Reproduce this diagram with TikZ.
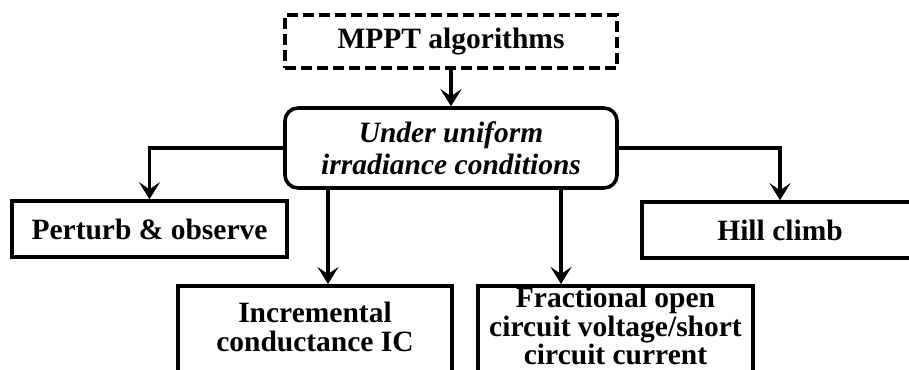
\documentclass[tikz,border=0pt]{standalone}
\usepackage{fontspec}
\setmainfont{Liberation Serif}
\usetikzlibrary{arrows.meta}
\begin{document}
\begin{tikzpicture}[x=1pt,y=-1pt,
  every node/.style={font=\fontsize{29.5}{29.5}\selectfont\bfseries, align=center},
  box/.style={draw, line width=3.6pt, inner sep=0pt, align=center},
  arr/.style={line width=3.4pt, -{Stealth[length=17pt,width=21pt,inset=7pt]}},
  conn/.style={line width=3.4pt}]
\clip (0,0) rectangle (909,369);
\node[box, dashed, dash pattern=on 11pt off 5pt, minimum width=332, minimum height=53] (mppt) at (451,41.5) {MPPT algorithms};
\node[box, rounded corners=13pt, minimum width=332, minimum height=80, font=\fontsize{29.5}{32}\selectfont\bfseries\itshape] (under) at (451,148) {Under uniform\\irradiance conditions};
\node[box, minimum width=275, minimum height=56] (po) at (149.5,229) {Perturb \& observe};
\node[box, minimum width=276, minimum height=56] (hc) at (780,230) {Hill climb};
\node[box, anchor=north, minimum width=274, minimum height=120] (ic) at (315,284) {};
\node at (315,327) (ict) {Incremental\\conductance IC};
\node[box, anchor=north, minimum width=275, minimum height=120] (fr) at (615.5,284) {};
\node[font=\fontsize{29.5}{28.5}\selectfont\bfseries] at (615.5,326) (frt) {Fractional open\\circuit voltage/short\\circuit current};
\draw[arr] (mppt.south) -- (under.north);
\draw[arr] (under.west) -| (po.north);
\draw[arr] (under.east) -| (hc.north);
\draw[arr] ([xshift=-123pt]under.south) -- ([xshift=-123pt]under.south |- ic.north);
\draw[arr] ([xshift=110pt]under.south) -- ([xshift=110pt]under.south |- fr.north);
\end{tikzpicture}
\end{document}
